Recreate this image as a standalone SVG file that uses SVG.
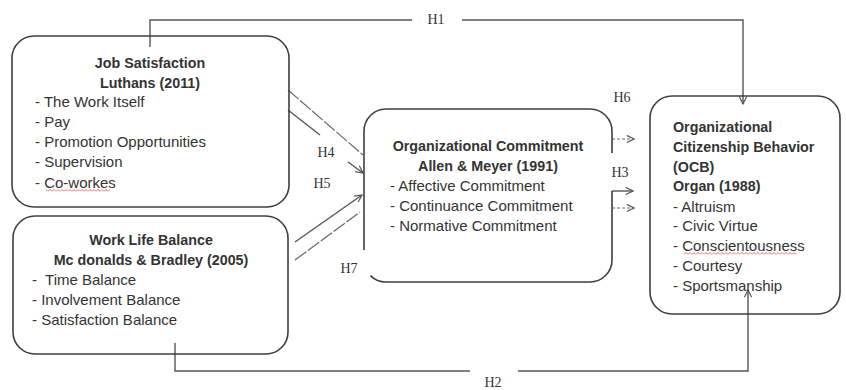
<svg xmlns="http://www.w3.org/2000/svg" width="846" height="390" viewBox="0 0 846 390">
<style>
  .box{fill:none;stroke:#3f3f3f;stroke-width:1.6}
  .t{font-family:"Liberation Sans",Arial,sans-serif;font-size:15px;fill:#333;white-space:pre}
  .b{font-family:"Liberation Sans",Arial,sans-serif;font-size:14.3px;font-weight:bold;fill:#333}
  .c{text-anchor:middle}
  .lbl{font-family:"Liberation Serif","Times New Roman",serif;font-size:14px;fill:#333;text-anchor:middle}
  .ln{fill:none;stroke:#555;stroke-width:1.4}
  .dl{fill:none;stroke:#666;stroke-width:1.2;stroke-dasharray:14 2}
  .ds{fill:none;stroke:#666;stroke-width:1.2;stroke-dasharray:3 2}
</style>
<defs>
  <marker id="chev" viewBox="0 0 10 10" refX="9" refY="5" markerWidth="9" markerHeight="9" markerUnits="userSpaceOnUse" orient="auto">
    <path d="M1,1 L9,5 L1,9" fill="none" stroke="#555" stroke-width="1.3"/>
  </marker>
  <pattern id="wavy" width="4" height="3" patternUnits="userSpaceOnUse">
    <path d="M0,2.5 L2,0.5 L4,2.5" fill="none" stroke="#e04848" stroke-width="0.8"/>
  </pattern>
</defs>

<g id="connectors">
  <!-- H1 -->
  <path class="ln" d="M150,47 V20 H412"/>
  <path class="ln" d="M462,20 H743 V104" marker-end="url(#chev)"/>
  <!-- H2 -->
  <path class="ln" d="M175,343 V371 H470"/>
  <path class="ln" d="M518,371 H748 V290" marker-end="url(#chev)"/>
  <!-- H4 -->
  <path class="ln" d="M288,110 L320,135"/>
  <path class="ln" d="M348,162 L363,173" marker-end="url(#chev)"/>
  <!-- H6 line from Job Satisfaction -->
  <path class="dl" d="M288,90 L363,155"/>
  <!-- H5 -->
  <path class="ln" d="M295,242 L362,195" marker-end="url(#chev)"/>
  <!-- H7 line from Work Life Balance -->
  <path class="dl" d="M295,260 L360,212"/>
  <!-- Right side to OCB -->
  <path class="ds" d="M612,139 H634" marker-end="url(#chev)"/>
  <path class="ln" d="M612,191 H633" marker-end="url(#chev)"/>
  <path class="ds" d="M612,208 H634" marker-end="url(#chev)"/>
</g>

<g id="job-satisfaction">
  <rect class="box" x="12" y="36" width="277" height="171" rx="22"/>
  <text class="b c" x="150" y="68">Job Satisfaction</text>
  <text class="b c" x="150" y="88">Luthans (2011)</text>
  <text class="t" x="35" y="107">- The Work Itself</text>
  <text class="t" x="35" y="127">- Pay</text>
  <text class="t" x="35" y="147">- Promotion Opportunities</text>
  <text class="t" x="35" y="167">- Supervision</text>
  <text class="t" x="35" y="188">- Co-workes</text>
  <rect x="46" y="189" width="64" height="3" fill="url(#wavy)"/>
</g>

<g id="work-life-balance">
  <rect class="box" x="13" y="216" width="275" height="138" rx="22"/>
  <text class="b c" x="151" y="245">Work Life Balance</text>
  <text class="b c" x="151" y="265">Mc donalds &amp; Bradley (2005)</text>
  <text class="t" x="32" y="285">-  Time Balance</text>
  <text class="t" x="32" y="305">- Involvement Balance</text>
  <text class="t" x="32" y="325">- Satisfaction Balance</text>
</g>

<g id="organizational-commitment">
  <path class="box" d="M364,250 V131 A22,22 0 0 1 386,109 H590 A22,22 0 0 1 612,131 V153 M612,191 V260 A22,22 0 0 1 590,282 H386 A22,22 0 0 1 370.4,275.6"/>
  <text class="b c" x="488" y="151">Organizational Commitment</text>
  <text class="b c" x="488" y="171">Allen &amp; Meyer (1991)</text>
  <text class="t" x="390" y="191">- Affective Commitment</text>
  <text class="t" x="390" y="211">- Continuance Commitment</text>
  <text class="t" x="390" y="231">- Normative Commitment</text>
</g>

<g id="ocb">
  <rect class="box" x="650" y="96" width="190" height="218" rx="22"/>
  <text class="b" x="673" y="132">Organizational</text>
  <text class="b" x="673" y="152">Citizenship Behavior</text>
  <text class="b" x="673" y="172">(OCB)</text>
  <text class="b" x="673" y="191">Organ (1988)</text>
  <text class="t" x="673" y="212">- Altruism</text>
  <text class="t" x="673" y="231">- Civic Virtue</text>
  <text class="t" x="673" y="251">- Conscientousness</text>
  <rect x="684" y="252" width="113" height="3" fill="url(#wavy)"/>
  <text class="t" x="673" y="271">- Courtesy</text>
  <text class="t" x="673" y="291">- Sportsmanship</text>
</g>

<g id="labels">
  <text class="lbl" x="436" y="24">H1</text>
  <text class="lbl" x="493" y="387">H2</text>
  <text class="lbl" x="326" y="157">H4</text>
  <text class="lbl" x="322" y="188">H5</text>
  <text class="lbl" x="349" y="273">H7</text>
  <text class="lbl" x="622" y="102">H6</text>
  <text class="lbl" x="620" y="177">H3</text>
</g>
</svg>
